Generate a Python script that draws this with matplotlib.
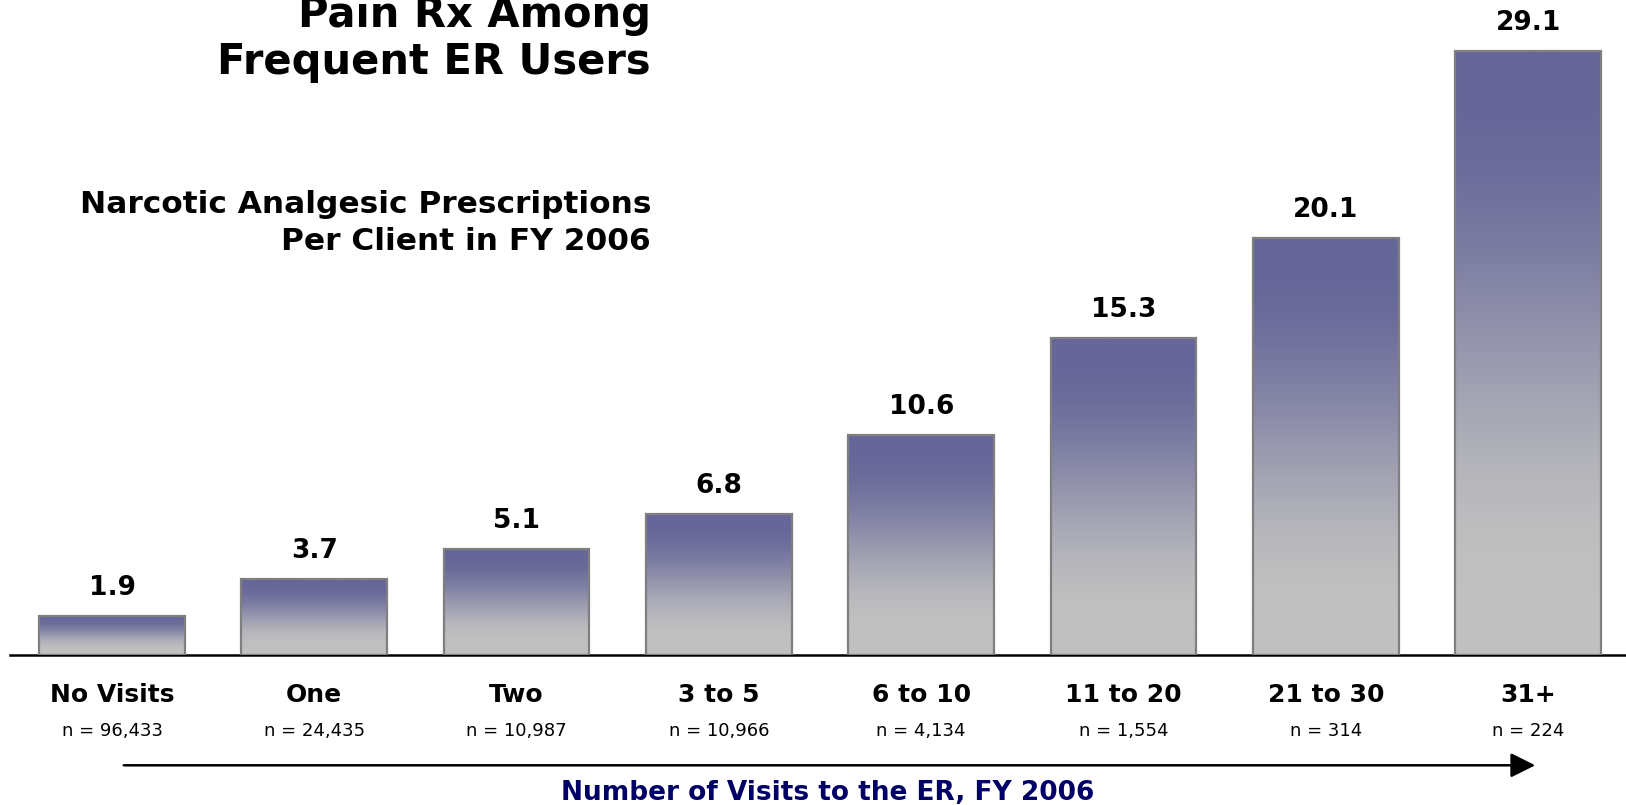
import numpy as np
import matplotlib
matplotlib.use("Agg")
import matplotlib.pyplot as plt
from matplotlib.colors import to_rgb

# Data
categories = ["No Visits", "One", "Two", "3 to 5", "6 to 10", "11 to 20", "21 to 30", "31+"]
rx_per_client = [1.9, 3.7, 5.1, 6.8, 10.6, 15.3, 20.1, 29.1]
n_clients = ["96,433", "24,435", "10,987", "10,966", "4,134", "1,554", "314", "224"]

W, H = 1626, 805
fig = plt.figure(figsize=(W / 100, H / 100), dpi=100)
fig.patch.set_facecolor("white")

FONT = "DejaVu Sans"

# Plot area: baseline at y=655 px, categories spaced 202 px apart starting at x=112
base_px = 655.4
unit_px = 20.77
x0_px, step_px = 112.0, 202.3
left_px = 10.4
ymax = 30.0
ax_left = left_px / W
ax_bottom = (H - base_px) / H
ax_height = ymax * unit_px / H
ax = fig.add_axes([ax_left, ax_bottom, 1 - ax_left, ax_height])
ax.set_xlim(-(x0_px - left_px) / step_px, (W - x0_px) / step_px)
ax.set_ylim(0, ymax)
for s in ["top", "right", "left"]:
    ax.spines[s].set_visible(False)
ax.spines["bottom"].set_linewidth(1.8)
ax.spines["bottom"].set_color("black")
ax.set_xticks([])
ax.set_yticks([])
ax.patch.set_alpha(0)

# Vertical gradient: slate blue at the top fading to light grey at the bottom
top_c = np.array(to_rgb("#666699"))
bot_c = np.array(to_rgb("#c0c0c0"))
t = np.linspace(0, 1, 256)
b = np.clip((t - 0.06) / 0.82, 0, 1)
b = b * b * (3 - 2 * b)
grad = (top_c[None, :] * (1 - b[:, None]) + bot_c[None, :] * b[:, None])
grad_img = grad[:, None, :]

x = np.arange(len(categories))
width = 0.72
bars = ax.bar(x, rx_per_client, width=width, facecolor="none",
              edgecolor="#7f7f7f", linewidth=1.6, zorder=3)
for bar in bars:
    bx, by = bar.get_x(), bar.get_y()
    bw, bh = bar.get_width(), bar.get_height()
    im = ax.imshow(grad_img, extent=[bx, bx + bw, by, by + bh],
                   aspect="auto", origin="upper", zorder=2, interpolation="bilinear")
    im.set_clip_path(bar)

# Value labels above bars
for xi, v in zip(x, rx_per_client):
    ax.annotate(f"{v:.1f}", (xi, v), xytext=(0, 28 * 0.72), textcoords="offset points",
                ha="center", va="center", fontsize=19, fontweight="bold",
                family=FONT, color="black")

def fx(px):
    return px / W

def fy(py):
    return 1 - py / H

# Category labels and counts
for i, (cat, n) in enumerate(zip(categories, n_clients)):
    cx = x0_px + step_px * i
    fig.text(fx(cx), fy(694.8), cat, ha="center", va="center", fontsize=18,
             fontweight="bold", family=FONT)
    fig.text(fx(cx), fy(731), f"n = {n}", ha="center", va="center", fontsize=13,
             family=FONT)

# Arrow along the bottom
fig.add_artist(matplotlib.patches.FancyArrowPatch(
    (fx(121), fy(765.3)), (fx(1538), fy(765.3)), transform=fig.transFigure,
    arrowstyle="-|>,head_length=10,head_width=5", mutation_scale=1.5,
    color="black", linewidth=1.8))

fig.text(fx(827.5), fy(793), "Number of Visits to the ER, FY 2006", ha="center",
         va="center", fontsize=19, fontweight="bold", color="#000066", family=FONT)

# Titles, right-aligned at the left side
fig.text(fx(651), fy(15.5), "Pain Rx Among", ha="right", va="center", fontsize=30,
         fontweight="bold", family=FONT)
fig.text(fx(651), fy(62.2), "Frequent ER Users", ha="right", va="center", fontsize=30,
         fontweight="bold", family=FONT)
fig.text(fx(651), fy(204.3), "Narcotic Analgesic Prescriptions", ha="right", va="center",
         fontsize=22.5, fontweight="bold", family=FONT)
fig.text(fx(651), fy(241.6), "Per Client in FY 2006", ha="right", va="center",
         fontsize=22.5, fontweight="bold", family=FONT)

fig.savefig("out.png", dpi=100, facecolor="white")
